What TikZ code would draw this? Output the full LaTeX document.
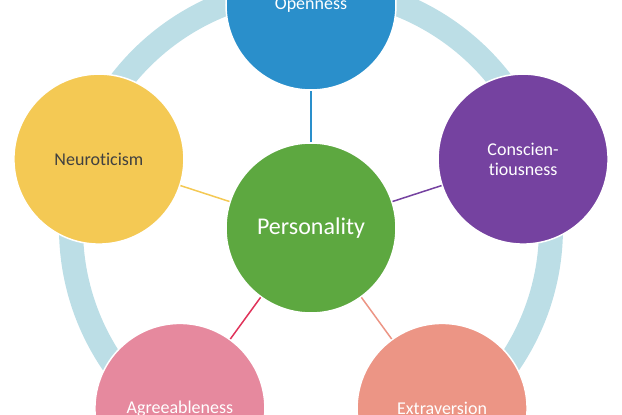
\documentclass[tikz,border=0pt]{standalone}
\usepackage{fontspec}
\setmainfont{Carlito}[Ligatures=NoCommon]
\definecolor{ringblue}{HTML}{BCDEE6}
\definecolor{openblue}{HTML}{2A8FCB}
\definecolor{neuryellow}{HTML}{F4C954}
\definecolor{conspurple}{HTML}{7542A0}
\definecolor{persgreen}{HTML}{5DA840}
\definecolor{agreepink}{HTML}{E6899E}
\definecolor{agreeline}{HTML}{E0335A}
\definecolor{extrasalmon}{HTML}{EC9585}
\definecolor{neurtext}{HTML}{404040}

\begin{document}
\begin{tikzpicture}[x=1pt,y=1pt,
    trait/.style={circle,draw=white,line width=1.5pt,minimum size=170pt,inner sep=0pt,
                  align=center,text=white,font=\fontsize{18}{20}\selectfont},
    link/.style={line width=1.5pt}]
                \useasboundingbox (-311,-187) rectangle (311,228);
                % outer ring
                \draw[ringblue,line width=24pt] (0,0) circle (240);
                \node[trait,fill=persgreen,font=\fontsize{24}{26}\selectfont] (pers) at (0,0) {Personality};
                \node[trait,fill=openblue] (open) at (90:223) {Openness};
                \node[trait,fill=conspurple] (consc) at (18:223) {Conscien-\\tiousness};
                \node[trait,fill=extrasalmon] (extra) at (306:223) {Extraversion};
                \node[trait,fill=agreepink] (agree) at (234:223) {Agreeableness};
                \node[trait,fill=neuryellow,text=neurtext] (neur) at (162:223) {Neuroticism};
                \draw[link,openblue] (pers) -- (open);
                \draw[link,conspurple] (pers) -- (consc);
                \draw[link,extrasalmon] (pers) -- (extra);
                \draw[link,agreeline] (pers) -- (agree);
                \draw[link,neuryellow] (pers) -- (neur);
            \end{tikzpicture}
\end{document}
